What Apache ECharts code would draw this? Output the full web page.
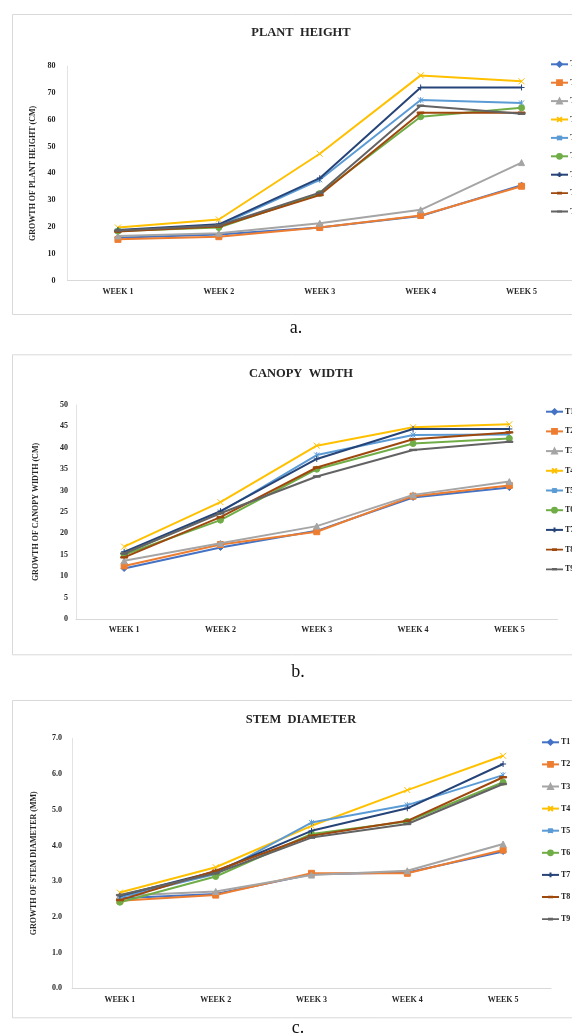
<!DOCTYPE html>
<html>
<head>
<meta charset="utf-8">
<script src="https://cdn.jsdelivr.net/npm/echarts@6/dist/echarts.min.js"></script>
<style>
  html, body { margin: 0; padding: 0; background: #fff; }
  .panel { position: absolute; left: 0; width: 572px; }
</style>
</head>
<body>
<div id="pa" class="panel" style="top:0;height:345px"></div>
<div id="pb" class="panel" style="top:345px;height:345px"></div>
<div id="pc" class="panel" style="top:690px;height:344px"></div>
<script>
// Categories and treatments shared by all three panels
const weeks = ['WEEK 1', 'WEEK 2', 'WEEK 3', 'WEEK 4', 'WEEK 5'];
const treatments = ['T1', 'T2', 'T3', 'T4', 'T5', 'T6', 'T7', 'T8', 'T9'];

// Plant height (cm), one row per treatment T1..T9
const plantHeight = [
  [16.0, 17.2, 19.8, 24.1, 35.6],
  [15.4, 16.4, 19.8, 24.3, 35.2],
  [16.7, 17.7, 21.4, 26.4, 44.0],
  [19.8, 22.8, 47.3, 76.5, 74.3],
  [18.5, 20.5, 37.6, 67.3, 66.2],
  [18.5, 19.8, 32.5, 61.1, 64.4],
  [18.9, 21.0, 38.2, 72.0, 72.0],
  [18.3, 20.2, 31.9, 62.6, 62.6],
  [18.7, 20.6, 32.8, 65.2, 62.2]
];

// Canopy width (cm)
const canopyWidth = [
  [11.8, 16.7, 20.6, 28.4, 30.7],
  [12.4, 17.4, 20.4, 28.7, 31.2],
  [13.6, 17.7, 21.7, 29.0, 32.1],
  [16.9, 27.3, 40.5, 44.8, 45.5],
  [15.3, 25.0, 38.3, 43.0, 43.1],
  [15.0, 23.1, 35.0, 41.0, 42.2],
  [15.7, 25.2, 37.4, 44.4, 44.4],
  [14.4, 23.8, 35.4, 42.0, 43.6],
  [15.3, 24.7, 33.3, 39.5, 41.4]
];

// Stem diameter (mm)
const stemDiameter = [
  [2.52, 2.64, 3.19, 3.24, 3.83],
  [2.45, 2.61, 3.22, 3.22, 3.87],
  [2.59, 2.71, 3.17, 3.29, 4.04],
  [2.68, 3.39, 4.55, 5.55, 6.51],
  [2.55, 3.20, 4.64, 5.13, 5.97],
  [2.41, 3.13, 4.32, 4.67, 5.77],
  [2.59, 3.27, 4.41, 5.04, 6.28],
  [2.47, 3.29, 4.27, 4.69, 5.91],
  [2.61, 3.22, 4.22, 4.60, 5.72]
];

// Y axis ranges and tick steps
const heightTicks = { min: 0, max: 80, step: 10 };
const canopyTicks = { min: 0, max: 50, step: 5 };
const stemTicks = { min: 0, max: 7, step: 1 };

// Series styling
const colors = ['#4472C4', '#ED7D31', '#A5A5A5', '#FFC000', '#5B9BD5',
                '#70AD47', '#264478', '#9E480E', '#636363'];
const symbols = [
  'diamond',
  'rect',
  'triangle',
  'path://M0,0L10,10M10,0L0,10',
  'path://M0,0L10,10M10,0L0,10M5,-1L5,11',
  'circle',
  'path://M5,0L5,10M0,5L10,5',
  'path://M0,0L10,0L10,2L0,2Z',
  'path://M0,0L10,0L10,2L0,2Z'
];
const symbolSizes = [6, 6, 6, 6, 6, 6, 6, 7, 7];

// Legend key for the dash-marked series: a 2px line with a short thicker dash,
// padded with tiny corner specks so the key keeps a 17x6 box
const dashKey = 'path://M0,0L0.001,0L0,0.001Z M17,6L16.999,6L17,5.999Z ' +
                'M0,2.1L17,2.1L17,3.9L0,3.9Z M6,1.7L11,1.7L11,4.3L6,4.3Z';

const SERIF = '"Liberation Serif", "Times New Roman", serif';
const ink = '#262626';

function makeOption(p) {
  const series = treatments.map((name, i) => ({
    name: name,
    type: 'line',
    data: p.rows[i],
    symbol: symbols[i],
    symbolSize: symbolSizes[i],
    symbolKeepAspect: true,
    showSymbol: true,
    lineStyle: { width: 2, color: colors[i] },
    itemStyle: { color: colors[i], borderColor: colors[i], borderWidth: 1 },
    z: 2 + i,
    animation: false
  }));
  const legendData = treatments.map((name, i) =>
    (i >= 7
      ? { name: name, icon: dashKey, itemStyle: { color: colors[i], borderWidth: 0 } }
      : { name: name }));
  return {
    animation: false,
    backgroundColor: '#fff',
    title: {
      text: p.title,
      left: p.titleX,
      top: p.titleY,
      textAlign: 'center',
      textStyle: {
        fontFamily: SERIF, fontWeight: 'bold', fontSize: 12.5,
        color: ink, letterSpacing: 1.2
      }
    },
    legend: {
      orient: 'vertical',
      left: p.legendX,
      top: p.legendY,
      itemWidth: 17,
      itemHeight: 6,
      itemGap: p.legendGap,
      data: legendData,
      textStyle: {
        fontFamily: SERIF, fontWeight: 'bold', fontSize: 8,
        color: ink, lineHeight: 10, padding: [0, 0, 0, -3]
      }
    },
    grid: {
      left: p.grid.left, top: p.grid.top,
      width: p.grid.width, height: p.grid.height,
      containLabel: false
    },
    xAxis: {
      type: 'category',
      data: weeks,
      boundaryGap: true,
      axisLine: { lineStyle: { color: '#d9d9d9', width: 1 } },
      axisTick: { show: false },
      axisLabel: {
        margin: p.xMargin,
        fontFamily: SERIF, fontWeight: 'bold', fontSize: 8,
        color: ink, letterSpacing: 1.2
      },
      splitLine: { show: false }
    },
    yAxis: {
      type: 'value',
      min: p.ticks.min, max: p.ticks.max, interval: p.ticks.step,
      name: p.yName,
      nameLocation: 'middle',
      nameRotate: 90,
      nameGap: p.nameGap,
      nameTextStyle: {
        fontFamily: SERIF, fontWeight: 'bold', fontSize: 8, color: ink
      },
      axisLine: { show: true, lineStyle: { color: '#e3e3e3', width: 1 } },
      axisTick: { show: false },
      splitLine: { show: false },
      axisLabel: {
        margin: p.yMargin,
        fontFamily: SERIF, fontWeight: 'bold', fontSize: 8, color: ink,
        formatter: p.yFormat
      }
    },
    graphic: [
      {
        type: 'rect',
        shape: { x: 12.5, y: p.frame[0] + 0.5, width: 600, height: p.frame[1] - p.frame[0] },
        style: { fill: 'none', stroke: '#d9d9d9', lineWidth: 1 },
        silent: true, z: -1
      },
      {
        type: 'text',
        x: p.captionX, y: p.captionY,
        style: {
          text: p.caption, fill: '#111',
          font: '18px ' + SERIF,
          textAlign: 'center', textVerticalAlign: 'middle'
        },
        silent: true
      }
    ],
    series: series
  };
}

const panels = [
  {
    id: 'pa', rows: plantHeight, ticks: heightTicks, title: 'PLANT  HEIGHT',
    titleX: 296, titleY: 21, yName: 'GROWTH OF PLANT HEIGHT (CM)', nameGap: 28,
    grid: { left: 67.5, top: 66, width: 505, height: 214.7 },
    xMargin: 7, yMargin: 12, yFormat: v => String(v),
    legendX: 545, legendY: 54.3, legendGap: 8.4,
    frame: [14, 314], caption: 'a.', captionX: 296, captionY: 328
  },
  {
    id: 'pb', rows: canopyWidth, ticks: canopyTicks, title: 'CANOPY  WIDTH',
    titleX: 296, titleY: 17, yName: 'GROWTH OF CANOPY WIDTH (CM)', nameGap: 36,
    grid: { left: 76, top: 60, width: 481.5, height: 214 },
    xMargin: 7, yMargin: 8, yFormat: v => String(v),
    legendX: 540, legendY: 56.7, legendGap: 9.7,
    frame: [9.3, 309.3], caption: 'b.', captionX: 298, captionY: 327
  },
  {
    id: 'pc', rows: stemDiameter, ticks: stemTicks, title: 'STEM  DIAMETER',
    titleX: 296, titleY: 18, yName: 'GROWTH OF STEM DIAMETER (MM)', nameGap: 34,
    grid: { left: 72, top: 48.3, width: 479, height: 250 },
    xMargin: 8, yMargin: 10, yFormat: v => v.toFixed(1),
    legendX: 536, legendY: 42.3, legendGap: 12.1,
    frame: [10, 327.3], caption: 'c.', captionX: 298, captionY: 338
  }
];

panels.forEach(p => {
  const chart = echarts.init(document.getElementById(p.id), null, { renderer: 'canvas' });
  chart.setOption(makeOption(p));
});
</script>
</body>
</html>
